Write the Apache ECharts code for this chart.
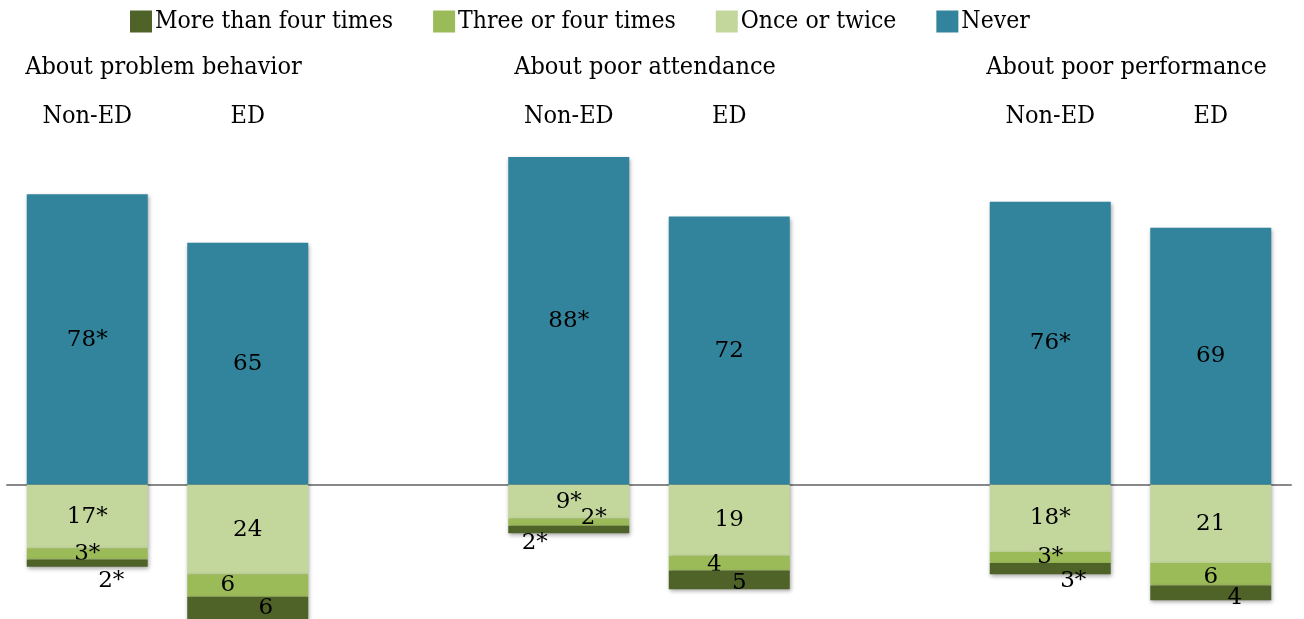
<!DOCTYPE html>
<html>
<head>
<meta charset="utf-8">
<script src="https://cdn.jsdelivr.net/npm/echarts@6/dist/echarts.min.js"></script>
<style>
  html, body { margin: 0; padding: 0; background: #fff; }
  #chart { width: 1304px; height: 619px; }
</style>
</head>
<body>
<div id="chart"></div>
<script>
// columns: three topics, each Non-ED / ED, with an empty slot between topics
const topics = ["About problem behavior", "About poor attendance", "About poor performance"];
const columns = ["Non-ED", "ED", "", "Non-ED", "ED", "", "Non-ED", "ED"];
const significant = [true, false, null, true, false, null, true, false];

const never = [78, 65, null, 88, 72, null, 76, 69];
const onceOrTwice = [17, 24, null, 9, 19, null, 18, 21];
const threeOrFour = [3, 6, null, 2, 4, null, 3, 6];
const moreThanFour = [2, 6, null, 2, 5, null, 3, 4];

const seriesNames = ["More than four times", "Three or four times", "Once or twice", "Never"];

// label nudges for the thin segments (dx, dy in px)
const threeShift = [[0, 0], [-20, 0], null, [25, -4], [-15, 2], null, [0, 0], [0, 3]];
const moreShift = [[24, 18], [18, 0], null, [-34, 13], [10, 3], null, [23, 12], [24, 5]];

const COLORS = {
  never: "#31849B",
  once: "#C3D69B",
  three: "#9BBB59",
  more: "#4F6228",
};
const SERIF = "'DejaVu Serif', serif";
const SERIF_COND = "'DejaVu Serif Condensed', 'DejaVu Serif', serif";

function labelText(v, i) {
  return v + (significant[i] ? "*" : "");
}

function buildData(values, negative, shifts) {
  return values.map((v, i) => {
    if (v === null) return "-";
    const item = { value: negative ? -v : v, label: { formatter: labelText(v, i) } };
    if (shifts && shifts[i]) item.label.offset = shifts[i];
    return item;
  });
}

const shadow = { shadowBlur: 4, shadowColor: "rgba(0,0,0,0.35)", shadowOffsetX: 1, shadowOffsetY: 2 };

function barSeries(name, color, data, z) {
  return {
    name,
    type: "bar",
    stack: "all",
    barWidth: 121,
    z,
    itemStyle: Object.assign({ color }, shadow),
    label: {
      show: true,
      position: "inside",
      color: "#000",
      fontFamily: SERIF,
      fontSize: 23,
    },
    emphasis: { disabled: true },
    data,
  };
}

const chart = echarts.init(document.getElementById("chart"), null, { renderer: "canvas" });

const option = {
  animation: false,
  backgroundColor: "#fff",
  legend: {
    data: seriesNames,
    top: 4,
    left: 125,
    itemWidth: 22,
    itemHeight: 22,
    itemGap: 40,
    icon: "rect",
    textStyle: { fontFamily: SERIF_COND, fontSize: 24.5, color: "#000", padding: [0, 0, 0, -2] },
  },
  grid: { left: 7, right: 13, top: 157, bottom: 0 },
  xAxis: [
    {
      type: "category",
      data: columns.map((c, i) => "c" + i),
      axisLine: { onZero: true, lineStyle: { color: "#888", width: 2 } },
      axisTick: { show: false },
      axisLabel: { show: false },
    },
    {
      type: "category",
      position: "top",
      data: columns.map((c, i) => "c" + i),
      axisLine: { show: false },
      axisTick: { show: false },
      axisLabel: {
        margin: 28,
        fontFamily: SERIF_COND,
        fontSize: 25,
        color: "#000",
        formatter: (v, i) => columns[i],
      },
    },
  ],
  yAxis: { type: "value", min: -36, max: 88, show: false, splitLine: { show: false } },
  series: [
    barSeries("Never", COLORS.never, buildData(never, false), 2),
    barSeries("Once or twice", COLORS.once, buildData(onceOrTwice, true), 3),
    barSeries("Three or four times", COLORS.three, buildData(threeOrFour, true, threeShift), 4),
    barSeries("More than four times", COLORS.more, buildData(moreThanFour, true, moreShift), 5),
  ],
};

chart.setOption(option);

// topic titles centered over each Non-ED / ED pair
const titles = topics.map((t, g) => {
  const a = chart.convertToPixel({ xAxisIndex: 0 }, "c" + g * 3);
  const b = chart.convertToPixel({ xAxisIndex: 0 }, "c" + (g * 3 + 1));
  return {
    type: "text",
    x: (a + b) / 2 - 4,
    y: 67,
    style: {
      text: t,
      fontFamily: SERIF_COND,
      fontSize: 25,
      fill: "#000",
      align: "center",
      verticalAlign: "middle",
    },
  };
});
chart.setOption({ graphic: titles });
</script>
</body>
</html>
